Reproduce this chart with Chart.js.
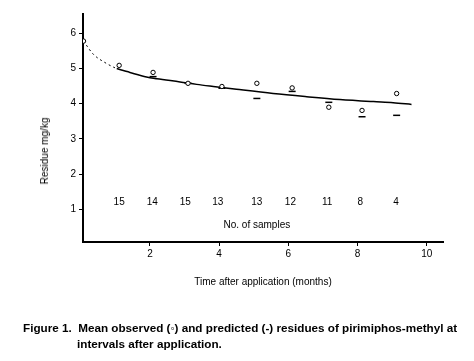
<!DOCTYPE html>
<html><head><meta charset="utf-8">
<script src="https://cdn.jsdelivr.net/npm/chart.js@4/dist/chart.umd.min.js"></script>
<style>
html,body{margin:0;padding:0;background:#fff;width:474px;height:361px;overflow:hidden;font-family:"Liberation Sans",Arial,sans-serif;}
#wrap{position:relative;width:474px;height:361px;}
canvas{position:absolute;left:0;top:0;}
.t{position:absolute;color:#000;white-space:nowrap;line-height:1;}
#ytitle{left:45px;top:151px;font-size:10px;transform:translate(-50%,-50%) rotate(-90deg);}
#xtitle{left:263px;top:282px;font-size:10px;transform:translate(-50%,-50%);}
#cap1{left:23px;top:322px;font-size:11.7px;font-weight:bold;}
#cap2{left:77px;top:338px;font-size:11.7px;font-weight:bold;}
</style></head><body>
<div id="wrap"><canvas id="c" width="474" height="361"></canvas>
<div class="t" id="ytitle">Residue mg/kg</div>
<div class="t" id="xtitle">Time after application (months)</div>
<div class="t" id="cap1">Figure 1.&nbsp; Mean observed (◦) and predicted (-) residues of pirimiphos-methyl at</div>
<div class="t" id="cap2">intervals after application.</div>
</div>
<script>
// ---- data ----
const obsMonths = [0.08, 1.11, 2.09, 3.10, 4.08, 5.09, 6.11, 7.17, 8.13, 9.13];
const observed  = [5.78, 5.09, 4.89, 4.58, 4.49, 4.58, 4.45, 3.90, 3.81, 4.29];
const predMonths = [2.09, 3.10, 4.08, 5.09, 6.11, 7.17, 8.13, 9.13];
const predicted  = [4.77, 4.58, 4.44, 4.15, 4.35, 4.04, 3.63, 3.67];
const fitMonths = [0.08, 0.36, 0.70, 1.04, 1.42, 1.90, 2.20, 2.87, 3.35, 3.83, 4.50, 5.56, 6.53, 7.49, 8.46, 9.03, 9.56];
const fitValues = [5.78, 5.41, 5.17, 5.00, 4.89, 4.76, 4.71, 4.62, 4.55, 4.49, 4.41, 4.29, 4.20, 4.12, 4.06, 4.03, 3.98];
const sampleMonths = [1.11, 2.07, 3.02, 3.96, 5.09, 6.06, 7.12, 8.08, 9.11];
const samples = [15, 14, 15, 13, 13, 12, 11, 8, 4];
const sampleRow = 1.2;
const samplesLabel = "No. of samples";
const xTicks = [2, 4, 6, 8, 10];
const yTicks = [1, 2, 3, 4, 5, 6];

const FONT = '"Liberation Sans", Arial, sans-serif';
const pts = (xs, ys) => xs.map((v, i) => ({x: v, y: ys[i]}));

const countsPlugin = {
  id: 'counts',
  afterDatasetsDraw(chart) {
    const {ctx, scales: {x, y}} = chart;
    ctx.save();
    ctx.fillStyle = '#000';
    ctx.font = '10px ' + FONT;
    ctx.textAlign = 'center';
    ctx.textBaseline = 'middle';
    samples.forEach((n, i) => ctx.fillText(String(n), x.getPixelForValue(sampleMonths[i]), y.getPixelForValue(sampleRow)));
    ctx.fillText(samplesLabel, x.getPixelForValue(5.09), y.getPixelForValue(0.55));
    ctx.restore();
  }
};

const axisCommon = (ticksArr, fitFn, pad) => ({
  type: 'linear',
  afterBuildTicks: s => { s.ticks = ticksArr.map(v => ({value: v})); },
  afterFit: fitFn,
  grid: {display: true, drawOnChartArea: false, drawTicks: true, tickLength: 4, color: '#000', lineWidth: 1},
  border: {display: true, color: '#000', width: 2},
  ticks: {color: '#000', font: {size: 10, family: FONT}, padding: pad, maxRotation: 0, autoSkip: false}
});

new Chart(document.getElementById('c'), {
  type: 'scatter',
  data: {
    datasets: [
      {
        label: 'observed', data: pts(obsMonths, observed),
        pointStyle: 'circle', pointRadius: 2.2, pointBorderWidth: 1,
        pointBackgroundColor: '#fff', pointBorderColor: '#000', showLine: false
      },
      {
        label: 'predicted', data: pts(predMonths, predicted),
        pointStyle: 'line', pointRadius: 3.5, pointBorderWidth: 1.5,
        pointBorderColor: '#000', showLine: false
      },
      {
        label: 'fit', data: pts(fitMonths, fitValues),
        showLine: true, pointRadius: 0, borderColor: '#000', borderWidth: 1.5,
        cubicInterpolationMode: 'monotone',
        segment: { borderDash: c => c.p1.parsed.x <= 1.05 ? [2, 3] : undefined, borderWidth: c => c.p1.parsed.x <= 1.05 ? 1 : 1.5 }
      }
    ]
  },
  options: {
    responsive: false, devicePixelRatio: 1, animation: false,
    layout: {padding: {left: 0, top: 14, right: 31, bottom: 99}},
    plugins: {legend: {display: false}, tooltip: {enabled: false}},
    scales: {
      x: Object.assign(axisCommon(xTicks, s => { s.height = 20; }, 2), {min: 0.065, max: 10.47}),
      y: Object.assign(axisCommon(yTicks, s => { s.width = 83; }, 3), {min: 0.07, max: 6.55})
    }
  },
  plugins: [countsPlugin]
});
</script>
</body></html>
